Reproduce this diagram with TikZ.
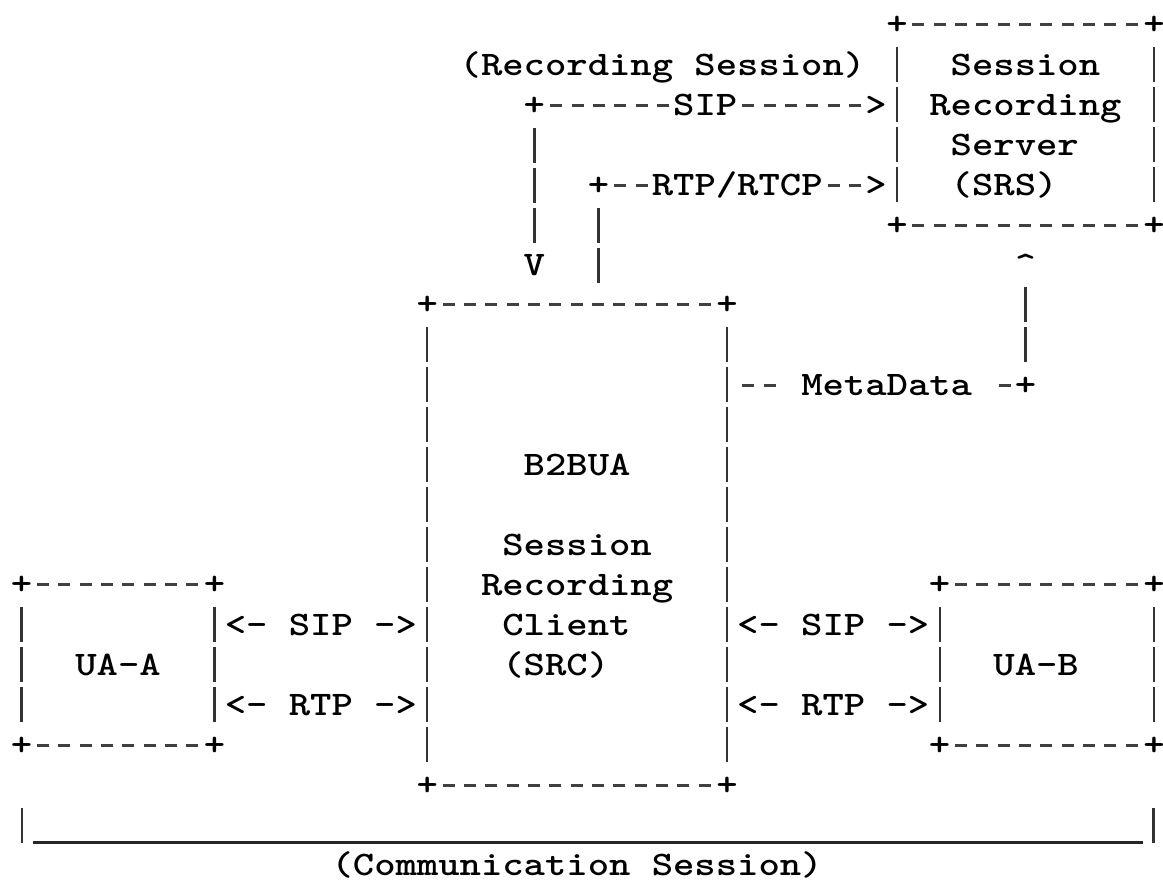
\documentclass[tikz,border=0pt]{standalone}
\usepackage{fontspec}
\newfontfamily\asciifamily{lmmonolt10-bold.otf}[FakeStretch=1.1822]
\newcommand{\asciifont}{\asciifamily\fontsize{17.2pt}{20pt}\selectfont}

\begin{document}
\begin{tikzpicture}[
    x=10.675pt, y=-20pt,
    ch/.style={inner sep=0pt, text height=15pt, text depth=5pt, font=\asciifont, text=black},
    box/.style={inner sep=0pt, draw=none},
    hdash/.style={draw=black!75, line width=1.5pt, dash pattern=on 6pt off 4.675pt, dash phase=8.3375pt},
    vbar/.style={draw=black!80, line width=1.1pt, dash pattern=on 17.5pt off 2.5pt, dash phase=18.75pt},
    uline/.style={draw=black!85, line width=1.5pt}
]
    \useasboundingbox[fill=white] (-1.0304,-0.625) rectangle (53.4427,21.375);

    \node[box, minimum width=128.1pt, minimum height=100pt] (srs) at (47,2.5) {};
    \node[box, minimum width=149.45pt, minimum height=240pt] (src) at (26,13) {};
    \node[box, minimum width=96.075pt, minimum height=80pt] (uaa) at (4.5,16) {};
    \node[box, minimum width=106.75pt, minimum height=80pt] (uab) at (48,16) {};

    \foreach \b in {srs,src,uaa,uab} {
        \draw[hdash] ([xshift=5.3375pt]\b.north west) -- ([xshift=-5.3375pt]\b.north east);
        \draw[hdash] ([xshift=5.3375pt]\b.south west) -- ([xshift=-5.3375pt]\b.south east);
        \draw[vbar] ([yshift=-10pt]\b.north west) -- ([yshift=10pt]\b.south west);
        \draw[vbar] ([yshift=-10pt]\b.north east) -- ([yshift=10pt]\b.south east);
        \foreach \a/\n in {north west/nw,north east/ne,south west/sw,south east/se}
            \node[ch] (\b\n) at (\b.\a) {+};
    }

    \node[ch] (srs1) at (47,1) {Session};
    \node[ch] (srs2) at (47,2) {Recording};
    \node[ch] (srs3) at (46.5,3) {Server};
    \node[ch] (srs4) at (46,4) {(SRS)};

    \node[ch] (src0) at (26,11) {B2BUA};
    \node[ch] (src1) at (26,13) {Session};
    \node[ch] (src2) at (26,14) {Recording};
    \node[ch] (src3) at (25.5,15) {Client};
    \node[ch] (src4) at (25,16) {(SRC)};

    \node[ch] (uaa1) at (4.5,16) {UA-A};
    \node[ch] (uab1) at (47.5,16) {UA-B};

    \node[ch] (reclbl) at (30,1) {(Recording Session)};
    \node[ch] (sipc) at (24,2) {+};
    \node[ch] (sipend) at (40,2) {>};
    \node[ch] (sipv) at (24,6) {V};
    \draw[hdash] (sipc) -- (sipend) node[ch, midway, fill=white] (siplbl) {SIP};
    \draw[vbar] (sipc) -- (sipv);

    \node[ch] (rtpc) at (27,4) {+};
    \node[ch] (rtpend) at (40,4) {>};
    \draw[hdash] (rtpc) -- (rtpend) node[ch, midway, fill=white] (rtplbl) {RTP/RTCP};
    \draw[vbar] (rtpc) -- ([yshift=10pt]src.north -| rtpc);

    \node[ch] (metac) at (47,9) {+};
    \node[ch] (metatip) at (47,6) {\textasciicircum};
    \draw[hdash] ([xshift=5.3375pt]src.east |- metac) -- (metac)
        node[ch, pos=0.5385, fill=white, inner xsep=10.675pt] (metalbl) {MetaData};
    \draw[vbar] (metac) -- (metatip);

    \path ([yshift=20pt]uaa.east) -- ([yshift=20pt]uaa.east -| src.west) node[ch, midway] (asip) {<- SIP ->};
    \path ([yshift=-20pt]uaa.east) -- ([yshift=-20pt]uaa.east -| src.west) node[ch, midway] (artp) {<- RTP ->};
    \path ([yshift=20pt]uab.west -| src.east) -- ([yshift=20pt]uab.west) node[ch, midway] (bsip) {<- SIP ->};
    \path ([yshift=-20pt]uab.west -| src.east) -- ([yshift=-20pt]uab.west) node[ch, midway] (brtp) {<- RTP ->};

    \coordinate (coml) at (0,20);
    \coordinate (comr) at (53,20);
    \draw[vbar] ([yshift=10pt]coml) -- ([yshift=-10pt]coml);
    \draw[vbar] ([yshift=10pt]comr) -- ([yshift=-10pt]comr);
    \draw[uline] ([xshift=5.3375pt,yshift=-8.5pt]coml) -- ([xshift=-5.3375pt,yshift=-8.5pt]comr);
    \node[ch] (comlbl) at (26,21) {(Communication Session)};
\end{tikzpicture}
\end{document}
